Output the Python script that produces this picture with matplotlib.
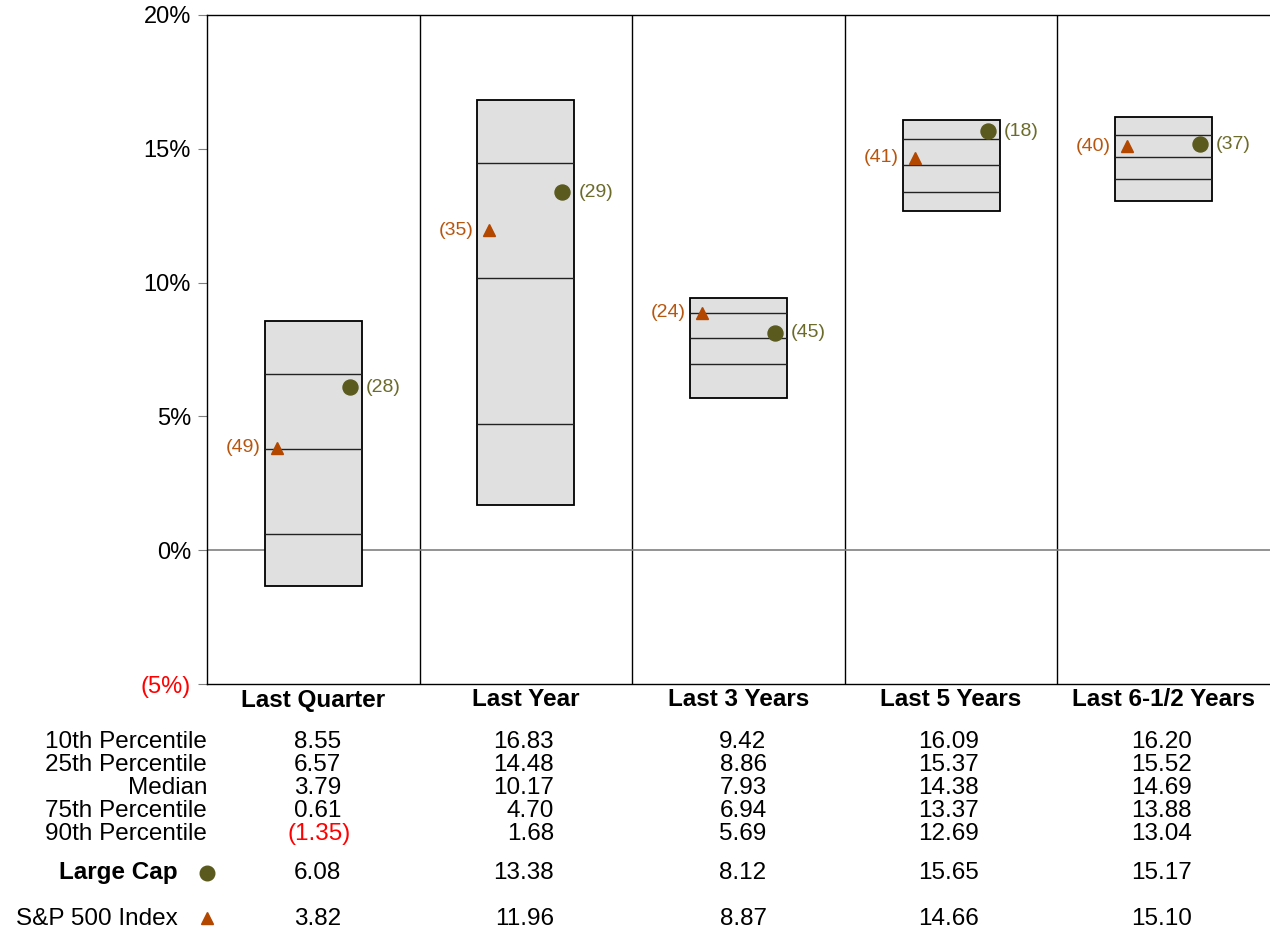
import matplotlib.pyplot as plt
import matplotlib.transforms as mtransforms
from matplotlib.patches import Rectangle

plt.rcParams['font.family'] = ['Liberation Sans', 'DejaVu Sans']

periods = ['Last Quarter', 'Last Year', 'Last 3 Years', 'Last 5 Years', 'Last 6-1/2 Years']
p10 = [8.55, 16.83, 9.42, 16.09, 16.20]
p25 = [6.57, 14.48, 8.86, 15.37, 15.52]
median = [3.79, 10.17, 7.93, 14.38, 14.69]
p75 = [0.61, 4.70, 6.94, 13.37, 13.88]
p90 = [-1.35, 1.68, 5.69, 12.69, 13.04]
large_cap = [6.08, 13.38, 8.12, 15.65, 15.17]
large_cap_rank = [28, 29, 45, 18, 37]
sp500 = [3.82, 11.96, 8.87, 14.66, 15.10]
sp500_rank = [49, 35, 24, 41, 40]

row_names = ['10th Percentile', '25th Percentile', 'Median', '75th Percentile', '90th Percentile']
yticks = [-5, 0, 5, 10, 15, 20]

W, H = 1270, 932
fig = plt.figure(figsize=(W / 100, H / 100), dpi=100)
ax = fig.add_axes([207 / W, 1 - 684 / H, 1 - 207 / W, (684 - 15) / H])
ax.set_xlim(0, 5)
ax.set_ylim(-5, 20)

lc_color = '#5a5a1e'
lc_text = '#6b6b2b'
sp_color = '#b34700'
sp_text = '#b8560f'

# frame
for s in ['left', 'top', 'bottom']:
    ax.spines[s].set_color('black')
    ax.spines[s].set_linewidth(1)
ax.spines['right'].set_visible(False)
ax.set_xticks([])
ax.set_yticks(yticks)
ax.set_yticklabels(['(5%)' if t < 0 else f'{t}%' for t in yticks], fontsize=17)
ax.get_yticklabels()[0].set_color('red')
ax.tick_params(axis='y', length=6.5, color='gray', pad=5)

for i in range(1, 5):
    ax.axvline(i, color='black', lw=1, zorder=1)
ax.axhline(0, color='gray', lw=1.2, zorder=1)

bw = 0.456
for i in range(5):
    c = i + 0.5
    left, right = c - bw / 2, c + bw / 2
    ax.add_patch(Rectangle((left, p90[i]), bw, p10[i] - p90[i],
                           facecolor='#e0e0e0', edgecolor='black', lw=1.3, zorder=2))
    ax.hlines([p25[i], median[i], p75[i]], left, right, color='#222222', lw=1, zorder=3)
    # markers
    ax.plot(right - 0.056, large_cap[i], 'o', color=lc_color, ms=10.8, zorder=4)
    ax.plot(left + 0.056, sp500[i], '^', color=sp_color, ms=8.5, zorder=4)
    ax.annotate(f'({large_cap_rank[i]})', (right - 0.056, large_cap[i]),
                xytext=(11.5, 0), textcoords='offset points', ha='left', va='center',
                fontsize=14, color=lc_text)
    ax.annotate(f'({sp500_rank[i]})', (left + 0.056, sp500[i]),
                xytext=(-11.5, 0), textcoords='offset points', ha='right', va='center',
                fontsize=14, color=sp_text)

# table below
tr = mtransforms.blended_transform_factory(ax.transData, fig.transFigure)


def fy(px):
    return 1 - px / H


for i, p in enumerate(periods):
    ax.text(i + 0.5, fy(700), p, transform=tr, ha='center', va='center',
            fontsize=17.5, fontweight='bold', clip_on=False)

fs = 17.5
row_y = [742, 765, 788, 811, 834]
for r, (name, vals) in enumerate(zip(row_names, [p10, p25, median, p75, p90])):
    ax.text(0, fy(row_y[r]), name, transform=tr, ha='right', va='center', fontsize=fs)
    for i, v in enumerate(vals):
        if v < 0:
            ax.text(i + 0.5 + 0.132 + 0.042, fy(row_y[r]), f'({abs(v):.2f})', transform=tr,
                    ha='right', va='center', fontsize=fs, color='red')
        else:
            ax.text(i + 0.5 + 0.132, fy(row_y[r]), f'{v:.2f}', transform=tr,
                    ha='right', va='center', fontsize=fs)

ax.text(-0.136, fy(873), 'Large Cap', transform=tr, ha='right', va='center',
        fontsize=fs, fontweight='bold')
ax.plot(0, fy(873), 'o', color=lc_color, ms=10.5, transform=tr, clip_on=False)
ax.text(-0.136, fy(919), 'S&P 500 Index', transform=tr, ha='right', va='center', fontsize=fs)
ax.plot(0, fy(918), '^', color=sp_color, ms=8.5, transform=tr, clip_on=False)
for i in range(5):
    ax.text(i + 0.5 + 0.132, fy(873), f'{large_cap[i]:.2f}', transform=tr,
            ha='right', va='center', fontsize=fs)
    ax.text(i + 0.5 + 0.132, fy(919), f'{sp500[i]:.2f}', transform=tr,
            ha='right', va='center', fontsize=fs)

fig.savefig('out.png', dpi=100)
